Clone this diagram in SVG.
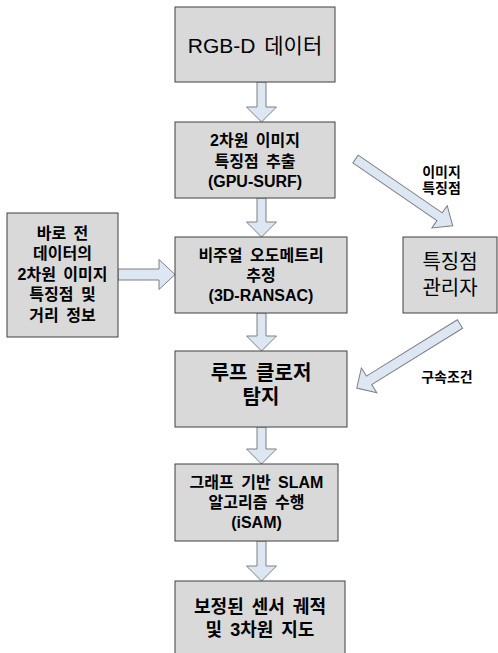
<svg xmlns="http://www.w3.org/2000/svg" width="498" height="653" viewBox="0 0 498 653">
<style>
.box{fill:#d9d9d9;stroke:#404040;stroke-width:1}
.arr{fill:#dde7f3;stroke:#7f7f7f;stroke-width:1;stroke-linejoin:miter}
text{font-family:"Liberation Sans","Noto Sans CJK KR",sans-serif;text-anchor:middle;dominant-baseline:central;fill:#000;word-spacing:3px}
.b16{font-size:16px;font-weight:bold}
.b18{font-size:18px;font-weight:bold}
.b20{font-size:20px;font-weight:bold}
.r20{font-size:20px}
.r21{font-size:21px}
.lbl{font-size:14px;font-weight:bold}
</style>
<rect x="0" y="0" width="498" height="653" fill="#ffffff"/>
<g id="connectors">
<polygon class="arr" points="257,82 266,82 266,107 276.5,107 261.5,122 246.5,107 257,107"/>
<polygon class="arr" points="257,198 266,198 266,222 276.5,222 261.5,237 246.5,222 257,222"/>
<polygon class="arr" points="257,313 266,313 266,336 276.5,336 261.5,351 246.5,336 257,336"/>
<polygon class="arr" points="257,427 266,427 266,449 276.5,449 261.5,464 246.5,449 257,449"/>
<polygon class="arr" points="257,541 266,541 266,566 276.5,566 261.5,581 246.5,566 257,566"/>
<polygon class="arr" points="118,269 159,269 159,259.5 175,274.5 159,289.5 159,280 118,280"/>
<polygon class="arr" transform="translate(355.5,159) rotate(34.5)" points="0,-4.7 102,-4.7 102,-13.5 118,0 102,13.5 102,4.7 0,4.7"/>
<polygon class="arr" transform="translate(460,324) rotate(148.2)" points="0,-5 107,-5 107,-14.6 121.5,0 107,14.6 107,5 0,5"/>
<text class="lbl" x="441.5" y="172">이미지</text>
<text class="lbl" x="441.5" y="188">특징점</text>
<text class="lbl" x="447" y="377">구속조건</text>
</g>
<g id="rgbd">
<rect class="box" x="175" y="7" width="160" height="75"/>
<text class="r21" x="255" y="45">RGB-D 데이터</text>
</g>
<g id="feature-extract">
<rect class="box" x="175" y="122" width="160" height="76"/>
<text class="b16" x="255" y="140.5">2차원 이미지</text>
<text class="b16" x="255" y="161">특징점 추출</text>
<text class="b16" x="255" y="181.5">(GPU-SURF)</text>
</g>
<g id="prev-data">
<rect class="box" x="7" y="213" width="111" height="124"/>
<text class="b16" x="62.5" y="233">바로 전</text>
<text class="b16" x="62.5" y="253.5">데이터의</text>
<text class="b16" x="62.5" y="274">2차원 이미지</text>
<text class="b16" x="62.5" y="294.5">특징점 및</text>
<text class="b16" x="62.5" y="315">거리 정보</text>
</g>
<g id="visual-odometry">
<rect class="box" x="175" y="237" width="172" height="76"/>
<text class="b16" x="261" y="255">비주얼 오도메트리</text>
<text class="b16" x="261" y="275">추정</text>
<text class="b16" x="261" y="295">(3D-RANSAC)</text>
</g>
<g id="feature-manager">
<rect class="box" x="403" y="237" width="94" height="76"/>
<text class="r20" x="450" y="262">특징점</text>
<text class="r20" x="450" y="288">관리자</text>
</g>
<g id="loop-closure">
<rect class="box" x="175" y="351" width="172" height="76"/>
<text class="b20" x="261" y="373">루프 클로저</text>
<text class="b20" x="261" y="397">탐지</text>
</g>
<g id="graph-slam">
<rect class="box" x="175" y="464" width="163" height="77"/>
<text class="b16" x="256.5" y="482">그래프 기반 SLAM</text>
<text class="b16" x="256.5" y="502">알고리즘 수행</text>
<text class="b16" x="256.5" y="522">(iSAM)</text>
</g>
<g id="result">
<rect class="box" x="175" y="581" width="170" height="80"/>
<text class="b18" x="260" y="607">보정된 센서 궤적</text>
<text class="b18" x="260" y="630">및 3차원 지도</text>
</g>
</svg>
